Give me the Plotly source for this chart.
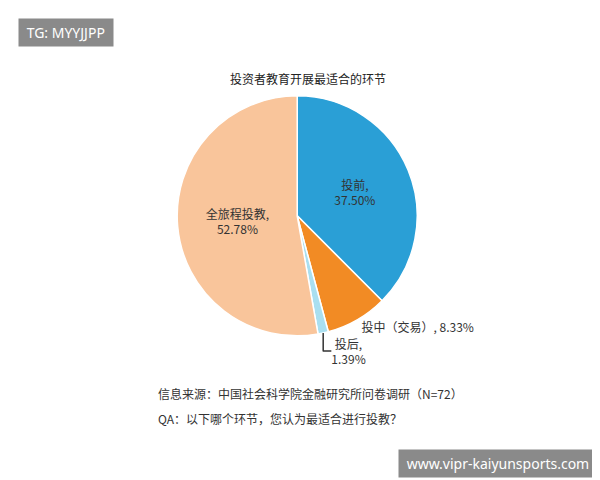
import plotly.graph_objects as go

labels = ["投前", "投中（交易）", "投后", "全旅程投教"]
values = [37.50, 8.33, 1.39, 52.78]
colors = ["#2a9fd6", "#f28b24", "#a9dff0", "#f9c59b"]
templates = ["%{label},<br>%{value:.2f}%", "%{label}, %{value:.2f}%",
             "%{label},<br>%{value:.2f}%", "%{label},<br>%{value:.2f}%"]
positions = ["inside", "outside", "outside", "inside"]

fig = go.Figure(go.Pie(
    labels=labels, values=values, sort=False, direction="clockwise", rotation=0,
    marker=dict(colors=colors, line=dict(color="white", width=1.5)),
    texttemplate=templates, textposition=positions,
    textfont=dict(size=12, color="#333333"),
    insidetextorientation="horizontal",
    domain=dict(x=[0.282, 0.682], y=[0.317, 0.817]),
    showlegend=False, hoverinfo="label+percent",
))

fig.update_layout(
    width=600, height=480, margin=dict(l=0, r=0, t=0, b=0),
    paper_bgcolor="white", plot_bgcolor="white",
    font=dict(family="Noto Sans CJK SC", color="#333333"),
    annotations=[
        dict(text="投资者教育开展最适合的环节", x=0.5, y=0.875, xref="paper", yref="paper",
             showarrow=False, font=dict(size=12, color="#222222")),
        dict(text="信息来源：中国社会科学院金融研究所问卷调研（N=72）", x=0.247, y=0.175,
             xref="paper", yref="paper", xanchor="left", showarrow=False, font=dict(size=12)),
        dict(text="QA：以下哪个环节，您认为最适合进行投教？", x=0.247, y=0.123,
             xref="paper", yref="paper", xanchor="left", showarrow=False, font=dict(size=12)),
        dict(text=" TG: MYYJJPP ", x=0.017, y=0.979, xref="paper", yref="paper",
             xanchor="left", yanchor="top", showarrow=False, bgcolor="#8a8a8a",
             borderpad=4, font=dict(size=14, color="white", family="Noto Sans")),
        dict(text=" www.vipr-kaiyunsports.com ", x=0.983, y=0.021, xref="paper", yref="paper",
             xanchor="right", yanchor="bottom", showarrow=False, bgcolor="#8a8a8a",
             borderpad=4, font=dict(size=14, color="white", family="Noto Sans")),
    ],
)

fig.write_html("out.html")
